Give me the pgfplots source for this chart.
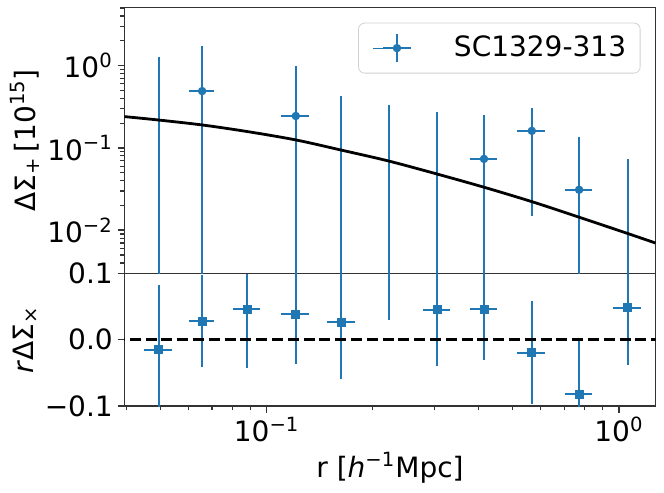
\documentclass[border=0pt]{standalone}
\usepackage{pgfplots}
\pgfplotsset{compat=1.18}
\usepackage{fontspec}
\setmainfont{DejaVu Sans}
\definecolor{c0}{RGB}{31,119,180}
\begin{document}
\fontsize{14bp}{16.8bp}\selectfont
\begin{tikzpicture}
\pgfplotsset{
  every axis/.append style={
    scale only axis, width=265.5bp,
    xmode=log, xmin=0.0395, xmax=1.27,
    tick align=outside, tick pos=left,
    major tick length=3.5bp, minor tick length=2bp,
    tick style={black!80, line width=0.8bp},
    minor tick style={black!80, line width=0.6bp},
    axis line style={black!80, line width=0.8bp},
    font=\fontsize{14bp}{16.8bp}\selectfont,
    yticklabel style={xshift=2.5bp},
    xticklabel style={yshift=3bp},
    clip=true,
  },
}
% bottom panel
\begin{axis}[
  name=bot, at={(0,0)}, anchor=south west, height=66.35bp,
  ymin=-0.1, ymax=0.1,
  ytick={-0.1,0,0.1}, yticklabels={−0.1,0.0,0.1},
  xtick={0.1,1}, xticklabels={10\textsuperscript{−1},10\textsuperscript{0}},
  minor xtick={0.04,0.05,0.06,0.07,0.08,0.09,0.2,0.3,0.4,0.5,0.6,0.7,0.8,0.9},
  xlabel={r [\textit{h}\textsuperscript{−1}Mpc]},
  ylabel={\textit{r}ΔΣ\textsubscript{×}},
  every axis x label/.style={at={(axis description cs:0.5,-0.467)}, anchor=center},
  every axis y label/.style={at={(axis description cs:-0.187,0.5)}, rotate=90, anchor=center},
]
\addplot[only marks, mark=square*, mark size=2bp, color=c0, mark options={fill=c0, draw=c0},
  error bars/.cd, x dir=both, x explicit relative, y dir=both, y explicit,
  error mark=none, error bar style={line width=1bp, color=c0}]
coordinates {
(0.0494,-0.015) +- (0.09,0.097)
(0.0656,0.028) +- (0.08,0.069)
(0.0881,0.046) +- (0.09,0.089)
(0.121,0.038) +- (0.09,0.074)
(0.163,0.026) +- (0.09,0.086)
(0.305,0.045) +- (0.09,0.084)
(0.414,0.046) +- (0.09,0.076)
(0.566,-0.0196) +- (0.09,0.078)
(0.771,-0.082) +- (0.09,0.081)
(1.059,0.048) +- (0.09,0.086)
};
\addplot[mark=none, draw=none, color=c0,
  error bars/.cd, y dir=both, y explicit,
  error mark=none, error bar style={line width=1bp, color=c0}]
coordinates {
(0.222,0.12) +- (0,0.091)
};
\addplot[black, line width=1.5bp, dash pattern=on 5.5bp off 2.4bp] coordinates {(0.03,0) (2,0)};
\end{axis}
% top panel
\begin{axis}[
  name=top, at={(0,66.35bp)}, anchor=south west, height=133bp,
  ymode=log, ymin=0.003, ymax=5.1,
  ytick={0.01,0.1,1},
  yticklabels={10\textsuperscript{−2},10\textsuperscript{−1},10\textsuperscript{0}},
  minor ytick={0.003,0.004,0.005,0.006,0.007,0.008,0.009,0.02,0.03,0.04,0.05,0.06,0.07,0.08,0.09,0.2,0.3,0.4,0.5,0.6,0.7,0.8,0.9,2,3,4,5},
  xtick=\empty, xticklabels={},
  ylabel={ΔΣ\textsubscript{+}\,[10\textsuperscript{15}]},
  every axis y label/.style={at={(axis description cs:-0.187,0.5)}, rotate=90, anchor=center},
  legend style={at={(1,1)}, anchor=north east, xshift=-7.5bp, yshift=-7.7bp,
    draw=black!18, fill=white, rounded corners=3bp,
    inner xsep=7bp, inner ysep=5bp, column sep=21bp,
    nodes={inner sep=0pt}, font=\fontsize{14bp}{16.8bp}\selectfont},
  legend cell align=left,
]
\addplot[only marks, mark=*, mark size=1.9bp, color=c0, mark options={fill=c0, draw=c0},
  legend image code/.code={
    \path (-5bp,0bp) -- (0bp,0bp);
    \draw[c0, line width=1bp] (0bp,0bp) -- (14bp,0bp) (7bp,-7bp) -- (7bp,7bp);
    \fill[c0] (7bp,0bp) circle (1.9bp);
  },
  error bars/.cd, x dir=both, x explicit relative, y dir=both, y explicit,
  error mark=none, error bar style={line width=1bp, color=c0}]
coordinates {
(0.0656,0.490) += (0.08,1.24) -= (0.08,0.4899)
(0.121,0.244) += (0.09,0.75) -= (0.09,0.2439)
(0.414,0.0735) += (0.09,0.177) -= (0.09,0.0734)
(0.566,0.161) += (0.09,0.142) -= (0.09,0.146)
(0.771,0.031) += (0.09,0.106) -= (0.09,0.0309)
};
\addlegendentry{SC1329-313}
\addplot[mark=none, draw=none, color=c0, forget plot,
  error bars/.cd, y dir=plus, y explicit,
  error mark=none, error bar style={line width=1bp, color=c0}]
coordinates {
(0.0494,0.0001) +- (0,1.26)
(0.163,0.0001) +- (0,0.428)
(0.222,0.0001) +- (0,0.333)
(0.305,0.0001) +- (0,0.275)
(1.059,0.0001) +- (0,0.074)
};
\addplot[black, line width=1.4bp, smooth, forget plot] coordinates {
(0.0395,0.240) (0.0494,0.218) (0.0656,0.190) (0.0881,0.158) (0.121,0.125) (0.163,0.094)
(0.222,0.0693) (0.305,0.0481) (0.415,0.0332) (0.567,0.0222) (0.775,0.0143)
(1.058,0.00914) (1.27,0.00700)
};
\end{axis}
\pgfresetboundingbox
\path (-62.25bp,-43.5bp) rectangle (269.75bp,203bp);
\end{tikzpicture}
\end{document}
